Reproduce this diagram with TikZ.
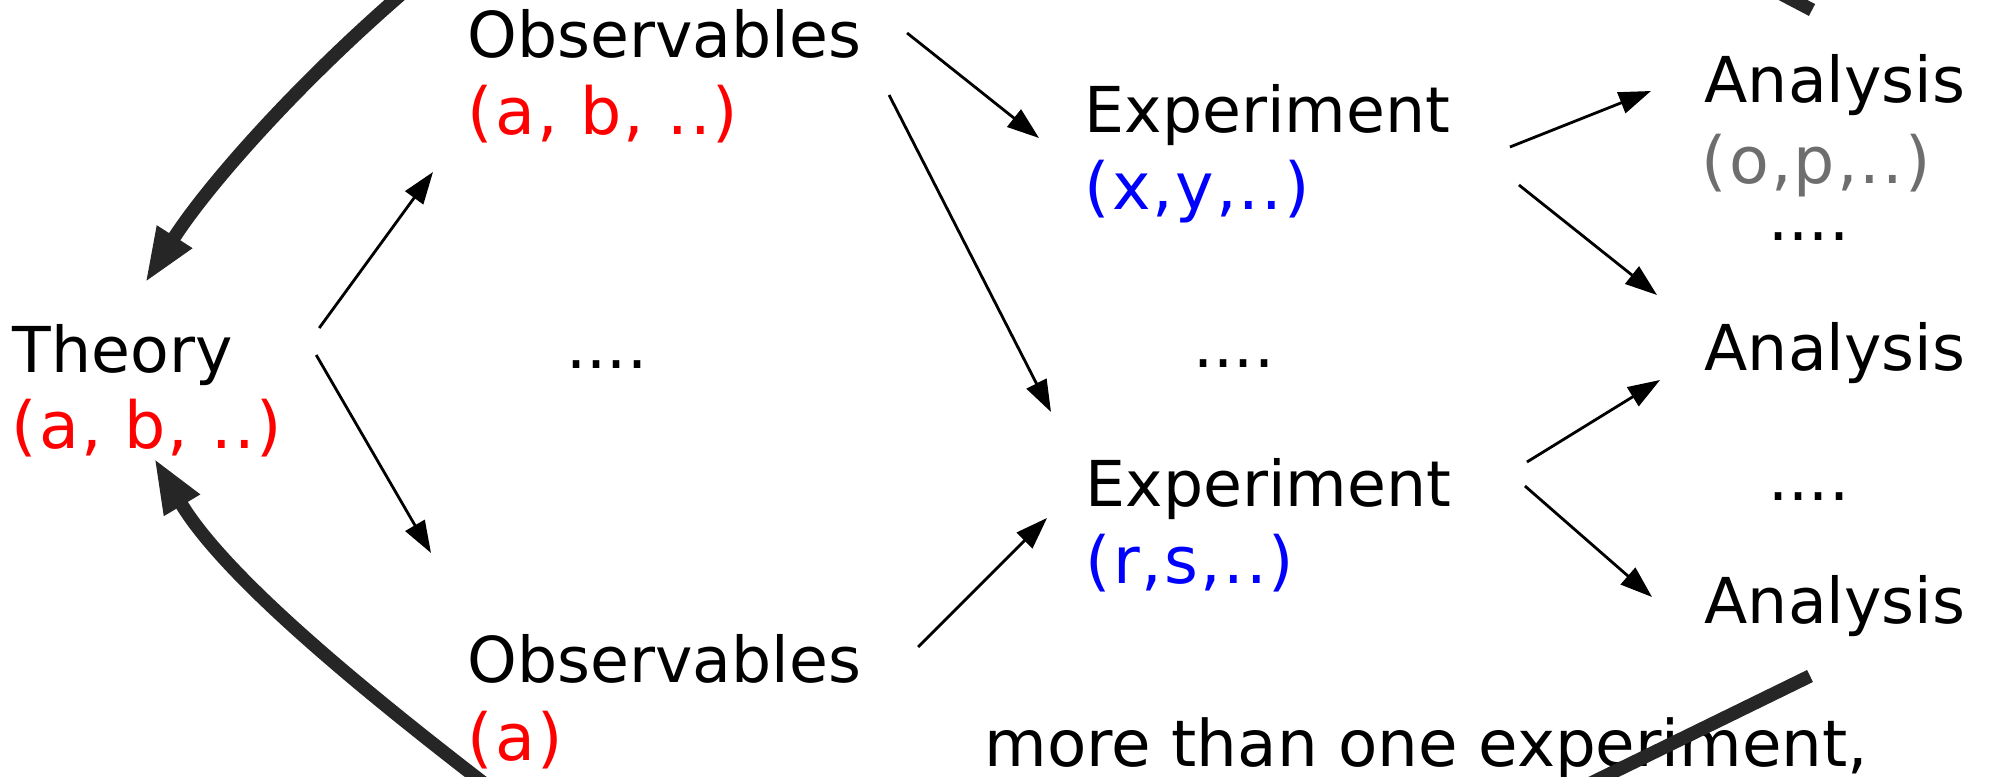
\documentclass[tikz,border=0pt]{standalone}
\usepackage{fontspec}
\setmainfont{DejaVu Sans}
\usetikzlibrary{arrows.meta}
\definecolor{pargray}{RGB}{110,110,110}

\begin{document}
\begin{tikzpicture}[
  lbl/.style={anchor=base west, inner sep=0pt, font=\fontsize{18}{22}\selectfont},
  par/.style={lbl, font=\fontsize{18.5}{22}\selectfont\addfontfeatures{LetterSpace=3.2}},
  flow/.style={-{Triangle[length=3.2mm, width=2.2mm]}, line width=0.8pt},
  back/.style={-{Triangle[length=5.5mm, width=3.8mm]}, line width=3.8pt, black!85},
  bar/.style={line width=3.8pt, black!85},
]
  \useasboundingbox (0,0) rectangle (19.89,7.76);
  \clip (0,0) rectangle (19.89,7.76);

  \node[lbl]           (theory)  at ( 0.12,4.04) {Theory};
  \node[par, red]      (theoryp) at ( 0.11,3.28) {(a, b, ..)};
  \node[lbl]           (obs1)    at ( 4.67,7.18) {Observables};
  \node[par, red]      (obs1p)   at ( 4.67,6.41) {(a, b, ..)};
  \node[lbl]           (dotso)   at ( 5.66,4.08) {....};
  \node[lbl]           (obs2)    at ( 4.67,0.94) {Observables};
  \node[par, red]      (obs2p)   at ( 4.67,0.16) {(a)};
  \node[lbl]           (exp1)    at (10.84,6.43) {Experiment};
  \node[par, blue]     (exp1p)   at (10.84,5.66) {(x,y,..)};
  \node[lbl]           (dotse)   at (11.93,4.09) {....};
  \node[lbl]           (exp2)    at (10.85,2.70) {Experiment};
  \node[par, blue]     (exp2p)   at (10.85,1.93) {(r,s,..)};
  \node[lbl]           (an1)     at (17.04,6.73) {Analysis};
  \node[par, pargray]  (an1p)    at (17.01,5.93) {(o,p,..)};
  \node[lbl]           (dotsa1)  at (17.68,5.35) {....};
  \node[lbl]           (an2)     at (17.04,4.05) {Analysis};
  \node[lbl]           (dotsa2)  at (17.68,2.76) {....};
  \node[lbl]           (an3)     at (17.04,1.53) {Analysis};
  \node[lbl, font=\fontsize{18.3}{22}\selectfont] (note) at (9.84,0.10) {more than one experiment,};

  \coordinate (farTL) at ( 5.00, 8.60);
  \coordinate (farBL) at ( 5.60,-0.65);
  \coordinate (farTR) at (16.90, 8.30);
  \coordinate (farBR) at (15.40,-0.32);

  \draw[flow] ([shift={(0.86,0.44)}]theory.base east) -- ([shift={(-0.34,-0.37)}]obs1p.base west);
  \draw[flow] ([shift={(0.83,0.17)}]theory.base east) -- ([shift={(-0.36,1.29)}]obs2.base west);
  \draw[flow] ([shift={(0.45,0.25)}]obs1.base east)   -- ([shift={(-0.45,-0.05)}]exp1.base west);
  \draw[flow] ([shift={(0.27,-0.37)}]obs1.base east)  -- ([shift={(-0.34,0.94)}]exp2.base west);
  \draw[flow] ([shift={(0.56,0.35)}]obs2.base east)   -- ([shift={(-0.38,-0.12)}]exp2.base west);
  \draw[flow] ([shift={(0.59,-0.14)}]exp1.base east)  -- ([shift={(-0.53,0.12)}]an1.base west);
  \draw[flow] ([shift={(0.68,-0.52)}]exp1.base east)  -- ([shift={(-0.47,0.76)}]an2.base west);
  \draw[flow] ([shift={(0.75,0.44)}]exp2.base east)   -- ([shift={(-0.44,-0.09)}]an2.base west);
  \draw[flow] ([shift={(0.73,0.20)}]exp2.base east)   -- ([shift={(-0.52,0.26)}]an3.base west);

  % feedback from outside the frame
  \draw[back] (farTL) .. controls (3.6,7.6) and (2.2,6.1) .. ([shift={(1.33,0.89)}]theory.base west);
  \draw[back] (farBL) .. controls (4.0,0.55) and (2.3,1.9) .. ([shift={(1.43,-0.10)}]theoryp.base west);
  \draw[bar] (farTR) -- ([shift={(1.08,0.93)}]an1.base west);
  \draw[bar] ([shift={(1.06,-0.53)}]an3.base west) -- (farBR);
\end{tikzpicture}
\end{document}
